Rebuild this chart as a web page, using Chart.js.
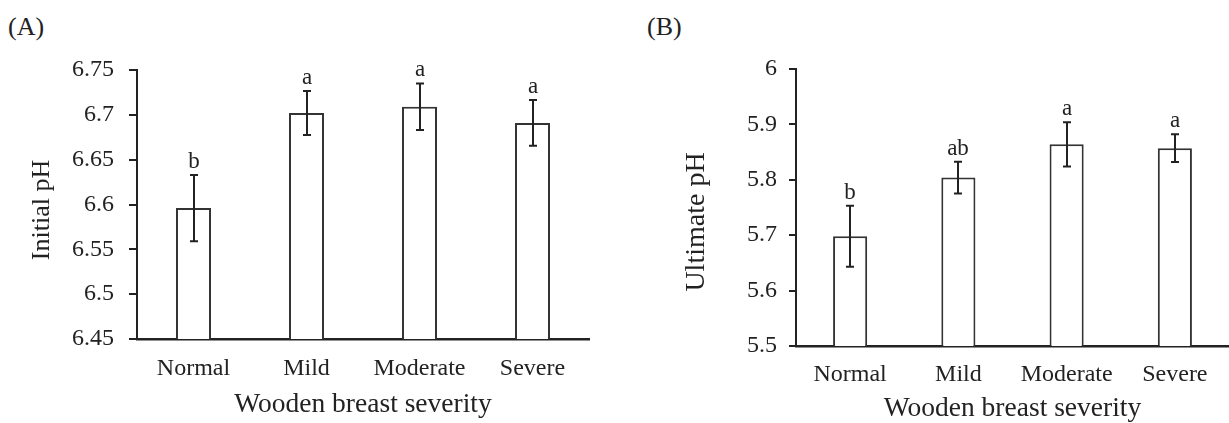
<!DOCTYPE html>
<html>
<head>
<meta charset="utf-8">
<script src="https://cdn.jsdelivr.net/npm/chart.js@4.4.1/dist/chart.umd.min.js"></script>
<style>
  body { margin: 0; background: #fff; }
  #wrap { position: relative; width: 1229px; height: 423px; overflow: hidden; }
  canvas { position: absolute; top: 0; }
  .panel-tag { position: absolute; font: 26px 'Liberation Serif', 'Times New Roman', serif; color: #222; line-height: 1; }
</style>
</head>
<body>
<div id="wrap">
  <span class="panel-tag" style="left:8px; top:14px;">(A)</span>
  <span class="panel-tag" style="left:647px; top:14px;">(B)</span>
  <canvas id="chart-a" width="615" height="423" style="left:0;"></canvas>
  <canvas id="chart-b" width="614" height="423" style="left:615px;"></canvas>
</div>
<script>
const categories = ['Normal', 'Mild', 'Moderate', 'Severe'];

// (A) initial pH, mean and error, significance letters
const initialPh = [6.596, 6.702, 6.709, 6.691];
const initialPhErr = [0.037, 0.0245, 0.026, 0.0256];
const initialLetters = ['b', 'a', 'a', 'a'];
const initialTicks = [6.45, 6.5, 6.55, 6.6, 6.65, 6.7, 6.75];

// (B) ultimate pH
const ultimatePh = [5.698, 5.804, 5.864, 5.857];
const ultimatePhErr = [0.055, 0.0287, 0.0398, 0.025];
const ultimateLetters = ['b', 'ab', 'a', 'a'];
const ultimateTicks = [5.5, 5.6, 5.7, 5.8, 5.9, 6];

const serif = "'Liberation Serif', 'Times New Roman', serif";
const ink = '#222';

// error bars + letters + rotated y title
function errorBars(values, errors, letters, yTitle, yTitleSize, yTitlePos) {
  return {
    id: 'errorBars',
    afterDatasetsDraw(chart) {
      const { ctx, scales: { y } } = chart;
      const meta = chart.getDatasetMeta(0);
      ctx.save();
      ctx.strokeStyle = ink;
      ctx.fillStyle = ink;
      ctx.lineWidth = 2;
      ctx.font = `23px ${serif}`;
      ctx.textAlign = 'center';
      ctx.textBaseline = 'alphabetic';
      values.forEach((v, i) => {
        const px = Math.round(meta.data[i].x);
        const top = y.getPixelForValue(v + errors[i]);
        const bot = y.getPixelForValue(v - errors[i]);
        ctx.beginPath();
        ctx.moveTo(px, top); ctx.lineTo(px, bot);
        ctx.moveTo(px - 4, top); ctx.lineTo(px + 4, top);
        ctx.moveTo(px - 4, bot); ctx.lineTo(px + 4, bot);
        ctx.stroke();
        ctx.fillText(letters[i], px, top - 7);
      });
      ctx.font = `${yTitleSize}px ${serif}`;
      ctx.textBaseline = 'middle';
      ctx.translate(yTitlePos[0], yTitlePos[1]);
      ctx.rotate(-Math.PI / 2);
      ctx.fillText(yTitle, 0, 0);
      ctx.restore();
    },
  };
}

function makeChart(id, cfg) {
  const ctx = document.getElementById(id).getContext('2d');
  return new Chart(ctx, {
    type: 'bar',
    data: {
      labels: categories,
      datasets: [{
        data: cfg.values,
        backgroundColor: '#ffffff',
        borderColor: '#333333',
        borderWidth: 2,
        borderSkipped: false,
        categoryPercentage: 1,
        barPercentage: cfg.barPct,
      }],
    },
    options: {
      responsive: false,
      animation: false,
      layout: { padding: { left: 0, top: cfg.top, right: cfg.right, bottom: 0 } },
      plugins: { legend: { display: false }, tooltip: { enabled: false } },
      scales: {
        x: {
          grid: { display: false, drawTicks: false, tickLength: 0 },
          border: { display: true, color: ink, width: 2.5 },
          ticks: { color: ink, padding: cfg.xTickPad, font: { family: serif, size: 24, lineHeight: 1.2 } },
          title: {
            display: true, text: 'Wooden breast severity', color: ink,
            font: { family: serif, size: 27.5, lineHeight: 1 },
            padding: { top: 0, bottom: cfg.xTitlePad },
          },
          afterFit: (scale) => { scale.height = cfg.xHeight; },
        },
        y: {
          min: cfg.ticks[0],
          max: cfg.ticks[cfg.ticks.length - 1],
          afterBuildTicks: (scale) => { scale.ticks = cfg.ticks.map((v) => ({ value: v })); },
          grid: { drawOnChartArea: false, drawTicks: true, tickLength: cfg.tickLen, color: ink, lineWidth: 2 },
          border: { display: true, color: ink, width: 2 },
          ticks: {
            color: ink, padding: cfg.yTickPad,
            font: { family: serif, size: 24 },
            callback: (v) => String(parseFloat(Number(v).toFixed(2))),
          },
          afterFit: (scale) => { scale.width = cfg.yWidth; },
        },
      },
    },
    plugins: [errorBars(cfg.values, cfg.errors, cfg.letters, cfg.yTitle, cfg.yTitleSize, cfg.yTitlePos)],
  });
}

makeChart('chart-a', {
  values: initialPh, errors: initialPhErr, letters: initialLetters, ticks: initialTicks,
  yTitle: 'Initial pH', yTitleSize: 26, yTitlePos: [42, 210],
  top: 70, right: 26, yWidth: 137, xHeight: 84, barPct: 0.31,
  xTickPad: 15, xTitlePad: 4, yTickPad: 15, tickLen: 8,
});

makeChart('chart-b', {
  values: ultimatePh, errors: ultimatePhErr, letters: ultimateLetters, ticks: ultimateTicks,
  yTitle: 'Ultimate pH', yTitleSize: 28, yTitlePos: [82, 222],
  top: 69, right: 0, yWidth: 181, xHeight: 77, barPct: 0.315,
  xTickPad: 14, xTitlePad: 0, yTickPad: 12, tickLen: 7,
});
</script>
</body>
</html>
